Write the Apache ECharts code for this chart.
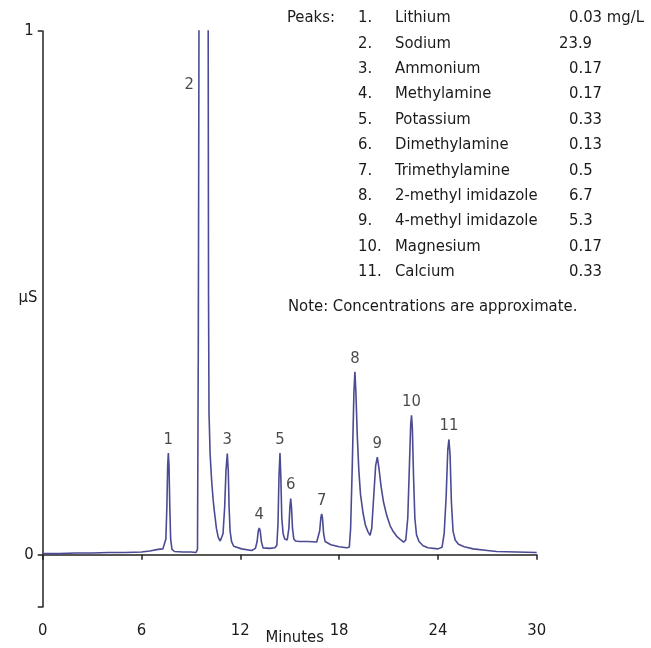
<!DOCTYPE html>
<html>
<head>
<meta charset="utf-8">
<script src="https://cdn.jsdelivr.net/npm/echarts@6/dist/echarts.min.js"></script>
<style>
html,body{margin:0;padding:0;background:#fff;}
#chart{width:651px;height:648px;}
</style>
</head>
<body>
<div id="chart"></div>
<script>
// ---- data ----
const xTicks = [0, 6, 12, 18, 24, 30];
const yTickLabels = [0, 1];
const trace = [
  [0, 0.002], [1, 0.002], [2, 0.003], [3, 0.003], [4, 0.004], [5, 0.004], [6, 0.005],
  [6.5, 0.007], [7.0, 0.010], [7.3, 0.011],
  [7.40, 0.012], [7.48, 0.03], [7.54, 0.09], [7.59, 0.17], [7.63, 0.194], [7.67, 0.17],
  [7.72, 0.09], [7.77, 0.03], [7.85, 0.010],
  [8.0, 0.006], [8.5, 0.005], [9.0, 0.005], [9.3, 0.004],
  [9.40, 0.01], [9.45, 0.4], [9.49, 1.0], [9.6, 1.8], [9.9, 1.8], [10.05, 1.0],
  [10.07, 0.5], [10.10, 0.27], [10.17, 0.19], [10.26, 0.141], [10.35, 0.105], [10.42, 0.084],
  [10.55, 0.05], [10.66, 0.033], [10.78, 0.026], [10.87, 0.025],
  [10.95, 0.04], [11.05, 0.09], [11.13, 0.16], [11.21, 0.193], [11.27, 0.16], [11.32, 0.09],
  [11.38, 0.045], [11.47, 0.025], [11.6, 0.016], [12.08, 0.011], [12.69, 0.008],
  [12.92, 0.012], [13.02, 0.025], [13.09, 0.045], [13.15, 0.051], [13.21, 0.045], [13.28, 0.025],
  [13.38, 0.013], [13.8, 0.012], [14.1, 0.013],
  [14.22, 0.018], [14.29, 0.06], [14.35, 0.15], [14.41, 0.194], [14.46, 0.15], [14.52, 0.07],
  [14.6, 0.04], [14.7, 0.03], [14.85, 0.028],
  [14.95, 0.05], [15.01, 0.09], [15.06, 0.107], [15.11, 0.09], [15.17, 0.05], [15.25, 0.03],
  [15.35, 0.026], [15.6, 0.025], [16.1, 0.025], [16.64, 0.024],
  [16.72, 0.025], [16.82, 0.045], [16.89, 0.07], [16.94, 0.078], [16.99, 0.07], [17.06, 0.04],
  [17.15, 0.025], [17.5, 0.019], [18.0, 0.015], [18.46, 0.013], [18.62, 0.014],
  [18.70, 0.05], [18.80, 0.17], [18.90, 0.31], [18.96, 0.349], [19.02, 0.31], [19.10, 0.23],
  [19.20, 0.16], [19.30, 0.115], [19.45, 0.08], [19.60, 0.056], [19.75, 0.044], [19.88, 0.037],
  [19.98, 0.05], [20.10, 0.11], [20.22, 0.17], [20.32, 0.186], [20.42, 0.165], [20.55, 0.13],
  [20.70, 0.10], [20.89, 0.075], [21.10, 0.055], [21.29, 0.044], [21.5, 0.035], [21.75, 0.028],
  [21.92, 0.024],
  [22.05, 0.028], [22.17, 0.07], [22.28, 0.18], [22.35, 0.25], [22.40, 0.266], [22.45, 0.24],
  [22.52, 0.15], [22.60, 0.07], [22.70, 0.038], [22.85, 0.025], [23.1, 0.017], [23.4, 0.013],
  [24.0, 0.011],
  [24.25, 0.014], [24.38, 0.04], [24.50, 0.11], [24.60, 0.20], [24.67, 0.22], [24.74, 0.19],
  [24.82, 0.10], [24.92, 0.045], [25.05, 0.028], [25.25, 0.02], [25.6, 0.015], [26.14, 0.011],
  [27.0, 0.008], [27.57, 0.006], [30, 0.004]
];
const peakIds = ['1', '2', '3', '4', '5', '6', '7', '8', '9', '10', '11'];
const peakTimes = [7.63, 9.49, 11.21, 13.15, 14.41, 15.06, 16.94, 18.96, 20.32, 22.40, 24.67];
const peakHeights = [0.194, 0.897, 0.193, 0.051, 0.194, 0.107, 0.078, 0.349, 0.186, 0.266, 0.22];
const peakNames = ['Lithium', 'Sodium', 'Ammonium', 'Methylamine', 'Potassium', 'Dimethylamine',
  'Trimethylamine', '2-methyl imidazole', '4-methyl imidazole', 'Magnesium', 'Calcium'];
const peakConcs = ['0.03 mg/L', '23.9', '0.17', '0.17', '0.33', '0.13', '0.5', '6.7', '5.3', '0.17', '0.33'];
const noteText = 'Note: Concentrations are approximate.';
const yAxisTitle = 'μS';

// ---- chart ----
const FONT = '"DejaVu Sans Condensed", "Liberation Sans Narrow", sans-serif';
const FS = 16.5;
const TXT = '#1a1a1a';
const chart = echarts.init(document.getElementById('chart'), null, {renderer: 'canvas'});

const graphics = [];
const txt = (s, x, y, align) => graphics.push({type: 'text', x: x, y: y,
  style: {text: s, font: FS + 'px ' + FONT, fill: TXT, textVerticalAlign: 'middle', textAlign: align || 'left'}});
txt('Peaks:', 287, 18);
peakNames.forEach((n, i) => {
  const y = 18 + i * 25.4;
  txt(peakIds[i] + '.', 358, y);
  txt(n, 395, y);
  const cx = peakConcs[i] === '23.9' ? 559 : 569;
  txt(peakConcs[i], cx, y);
});
txt(noteText, 288, 307);
txt(yAxisTitle, 28, 298, 'center');

const option = {
  animation: false,
  backgroundColor: '#fff',
  grid: {left: 42.7, right: 114.3, top: 31, bottom: 41, containLabel: false, outerBoundsMode: 'none'},
  xAxis: {
    type: 'value', min: 0, max: 30, interval: 6,
    name: 'Minutes', nameLocation: 'middle', nameGap: 22, nameMoveOverlap: false,
    nameTextStyle: {fontFamily: FONT, fontSize: FS, color: TXT, padding: [0, 0, 0, 10]},
    axisLine: {lineStyle: {color: '#222', width: 1.5}},
    axisTick: {length: 5, inside: false, lineStyle: {color: '#222', width: 1.5}},
    axisLabel: {fontFamily: FONT, fontSize: FS, color: TXT, margin: 15, customValues: xTicks},
    splitLine: {show: false}
  },
  yAxis: {
    type: 'value', min: -0.1, max: 1,
    axisLine: {show: true, lineStyle: {color: '#222', width: 1.5}},
    axisTick: {show: true, length: 5, lineStyle: {color: '#222', width: 1.5}, customValues: [-0.1, 0, 1]},
    axisLabel: {fontFamily: FONT, fontSize: FS, color: TXT, margin: 9, customValues: yTickLabels},
    splitLine: {show: false}
  },
  series: [
    {
      type: 'line', data: trace, showSymbol: false, smooth: false, clip: true,
      lineStyle: {color: '#4b4b93', width: 1.6}, z: 2
    },
    {
      type: 'scatter', symbolSize: 0, z: 3, silent: true,
      data: peakIds.map((id, i) => ({
        value: [peakTimes[i], peakHeights[i]], name: id,
        label: i === 1 ? {position: 'left', distance: 5} : {position: 'top', distance: 5}
      })),
      label: {show: true, formatter: p => p.name, fontFamily: FONT, fontSize: FS, color: TXT}
    }
  ],
  graphic: graphics
};
chart.setOption(option);
</script>
</body>
</html>
